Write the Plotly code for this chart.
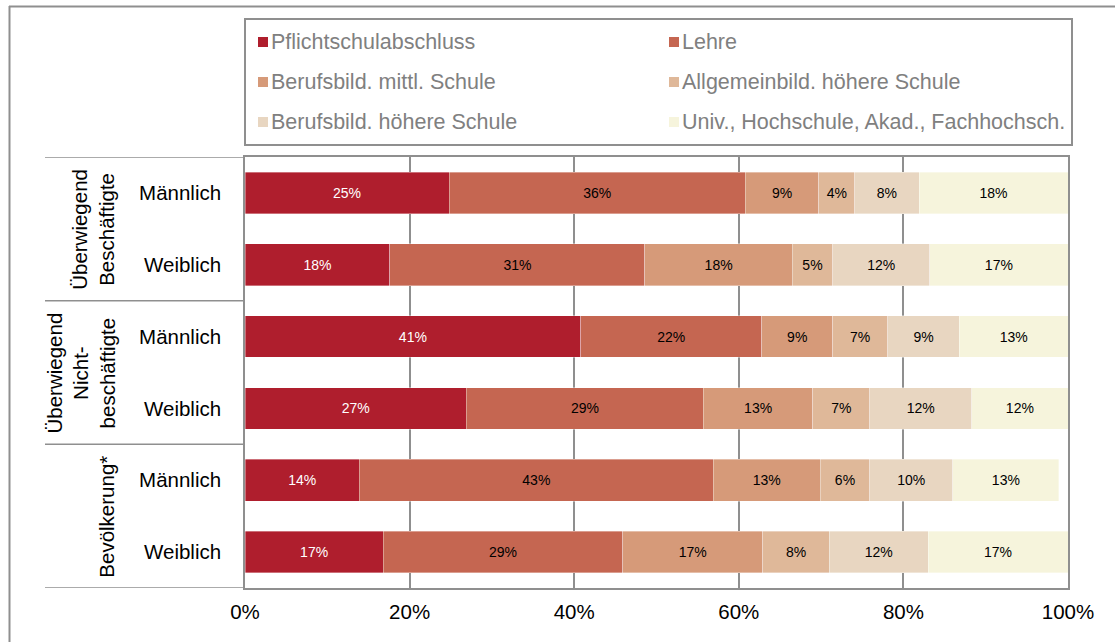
import plotly.graph_objects as go

# ---------------- data ----------------
rows = ["Männlich", "Weiblich", "Männlich", "Weiblich", "Männlich", "Weiblich"]
groups = ["Überwiegend<br>Beschäftigte", "Überwiegend<br>Nicht-<br>beschäftigte", "Bevölkerung*"]
group_rows = [(0, 1), (2, 3), (4, 5)]

levels = [
    "Pflichtschulabschluss",
    "Lehre",
    "Berufsbild. mittl. Schule",
    "Allgemeinbild. höhere Schule",
    "Berufsbild. höhere Schule",
    "Univ., Hochschule, Akad., Fachhochsch.",
]

pflicht = [24.8, 17.6, 40.8, 26.9, 13.9, 16.8]
lehre = [36.0, 31.0, 22.0, 28.8, 43.0, 29.1]
bms = [8.9, 17.9, 8.6, 13.3, 13.0, 17.0]
ahs = [4.4, 4.9, 6.7, 6.9, 6.0, 8.1]
bhs = [7.8, 11.8, 8.7, 12.4, 10.1, 12.0]
univ = [18.1, 16.8, 13.2, 11.7, 12.9, 17.0]
series = [pflicht, lehre, bms, ahs, bhs, univ]

x_ticks = [0, 20, 40, 60, 80, 100]

# ---------------- style ----------------
colors = ["#AF1E2D", "#C56651", "#D69A79", "#DFB899", "#E8D6C1", "#F6F4DC"]
text_colors = ["white", "black", "black", "black", "black", "black"]
FONT = "Liberation Sans, Arial, sans-serif"
NARROW = "Liberation Sans Narrow, Liberation Sans, Arial, sans-serif"
GRAY = "#8f8f8f"
FS = 20.5
LFS = 21.5

W, H = 1115, 642
ML, MR, MT, MB = 245, 47, 157, 54
PW = W - ML - MR
PH = H - MT - MB


def px_x(p):
    return (p - ML) / PW


def px_y(p):
    return (H - MB - p) / PH


ypos = list(range(len(rows)))

fig = go.Figure()
for name, vals, col, tc in zip(levels, series, colors, text_colors):
    fig.add_trace(go.Bar(
        y=ypos, x=vals, name=name, orientation="h",
        marker=dict(color=col, line=dict(width=0.6, color="rgba(255,255,255,0.6)")),
        width=0.58,
        text=[f"{round(v)}%" for v in vals],
        textposition="inside", insidetextanchor="middle", textangle=0,
        textfont=dict(color=tc, size=14, family=NARROW),
        showlegend=False, hoverinfo="skip",
    ))

fig.update_layout(
    barmode="stack",
    width=W, height=H,
    margin=dict(l=ML, r=MR, t=MT, b=MB),
    paper_bgcolor="white", plot_bgcolor="white",
    font=dict(family=FONT, size=FS, color="black"),
    uniformtext=dict(minsize=14, mode="show"),
    xaxis=dict(
        range=[0, 100], tickvals=x_ticks, ticktext=[f"{v}%" for v in x_ticks],
        showgrid=True, gridcolor=GRAY, gridwidth=1.5,
        showline=True, linecolor=GRAY, linewidth=1.5, mirror=True,
        zeroline=False, ticks="", ticklabelstandoff=5,
        tickfont=dict(size=FS, color="black", family=FONT),
    ),
    yaxis=dict(
        range=[len(rows) - 0.5, -0.5], tickvals=ypos, ticktext=rows,
        showgrid=False, zeroline=False,
        showline=True, linecolor=GRAY, linewidth=1.5, mirror=True,
        ticks="", ticklabelstandoff=18,
        tickfont=dict(size=FS, color="black", family=FONT),
    ),
)

shapes = []
# group separators on the left
for yb in [-0.5, 1.5, 3.5, len(rows) - 0.5]:
    shapes.append(dict(type="line", xref="paper", yref="y", x0=px_x(45), x1=0,
                       y0=yb, y1=yb, line=dict(color=GRAY, width=1.5)))
# outer frame (top and left)
shapes.append(dict(type="line", xref="paper", yref="paper", x0=px_x(9), x1=px_x(1116),
                   y0=px_y(6.5), y1=px_y(6.5), line=dict(color=GRAY, width=2)))
shapes.append(dict(type="line", xref="paper", yref="paper", x0=px_x(9.5), x1=px_x(9.5),
                   y0=px_y(6), y1=px_y(643), line=dict(color=GRAY, width=2)))
# legend box
shapes.append(dict(type="rect", xref="paper", yref="paper", x0=px_x(245), x1=px_x(1072),
                   y0=px_y(145), y1=px_y(19), line=dict(color=GRAY, width=2),
                   fillcolor="white", layer="below"))

annotations = []
# legend entries
col_x = [258, 669]
row_y = [42, 82, 122]
for i, (name, col) in enumerate(zip(levels, colors)):
    cx = col_x[i % 2]
    cy = row_y[i // 2]
    shapes.append(dict(type="rect", xref="paper", yref="paper",
                       x0=px_x(cx), x1=px_x(cx + 10), y0=px_y(cy + 5), y1=px_y(cy - 5),
                       line=dict(width=0), fillcolor=col))
    annotations.append(dict(xref="paper", yref="paper", x=px_x(cx + 11), y=px_y(cy),
                            xanchor="left", yanchor="middle", showarrow=False, text=name,
                            font=dict(size=LFS, color="#808080", family=FONT)))

# group labels
for g, (a, b) in zip(groups, group_rows):
    annotations.append(dict(xref="paper", yref="y", x=px_x(120), y=(a + b) / 2,
                            xanchor="right", yanchor="middle", showarrow=False,
                            text=g, textangle=-90,
                            font=dict(size=FS, color="black", family=FONT)))

fig.update_layout(shapes=shapes, annotations=annotations)
fig.write_html("out.html", config={"displayModeBar": False},
               post_script="document.body.style.margin='0';document.body.style.overflow='hidden';")
